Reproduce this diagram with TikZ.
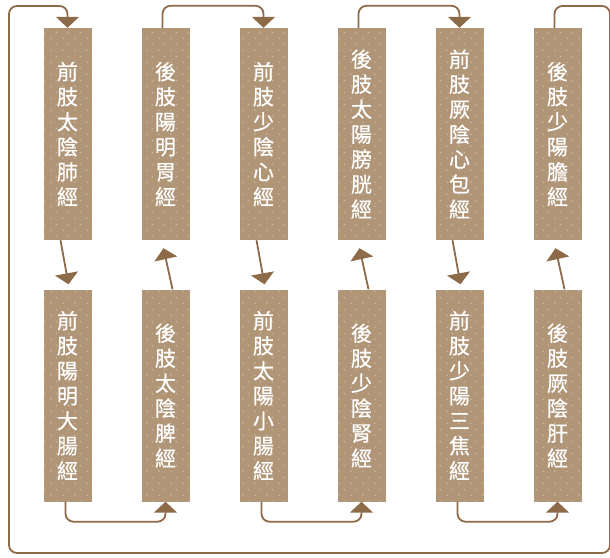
\documentclass[tikz,border=0pt]{standalone}
\usepackage{fontspec}
\newfontfamily\cjk{Noto Sans CJK TC}[FakeBold=0.5]
\usetikzlibrary{arrows.meta,patterns.meta}
\definecolor{boxbrown}{HTML}{B09577}
\definecolor{dotbrown}{HTML}{C6B09A}
\definecolor{linebrown}{HTML}{8D6A48}

\tikzdeclarepattern{
  name=sparsedots,
  type=uncolored,
  bounding box={(0,0) and (12pt,12pt)},
  tile size={(12pt,12pt)},
  code={
    \fill (3pt,3pt) circle (1.1pt);
    \fill (9pt,9pt) circle (1.1pt);
  }
}

\begin{document}
\begin{tikzpicture}[x=1pt, y=-1pt,
    meridian/.style={fill=boxbrown, postaction={pattern=sparsedots, pattern color=dotbrown},
      text=white, minimum width=48pt, minimum height=212pt, inner sep=0pt,
      align=center, font=\cjk\fontsize{21}{25}\selectfont},
    flow/.style={draw=linebrown, line width=1.8pt, rounded corners=8pt},
    flowarrow/.style={-{Triangle[width=23pt,length=11pt]}}]
    \useasboundingbox (0,0) rectangle (610,557);

    % top row
    \node[meridian] (b1) at (67.5,134) {前\\肢\\太\\陰\\肺\\經};
    \node[meridian] (b2) at (165.5,134) {後\\肢\\陽\\明\\胃\\經};
    \node[meridian] (b3) at (263.5,134) {前\\肢\\少\\陰\\心\\經};
    \node[meridian] (b4) at (361.5,134) {後\\肢\\太\\陽\\膀\\胱\\經};
    \node[meridian] (b5) at (459.5,134) {前\\肢\\厥\\陰\\心\\包\\經};
    \node[meridian] (b6) at (557.5,134) {後\\肢\\少\\陽\\膽\\經};
    % bottom row
    \node[meridian] (b7) at (67.5,395.5) {前\\肢\\陽\\明\\大\\腸\\經};
    \node[meridian] (b8) at (165.5,395.5) {後\\肢\\太\\陰\\脾\\經};
    \node[meridian] (b9) at (263.5,395.5) {前\\肢\\太\\陽\\小\\腸\\經};
    \node[meridian] (b10) at (361.5,395.5) {後\\肢\\少\\陰\\腎\\經};
    \node[meridian] (b11) at (459.5,395.5) {前\\肢\\少\\陽\\三\\焦\\經};
    \node[meridian] (b12) at (557.5,395.5) {後\\肢\\厥\\陰\\肝\\經};

    % down and up between the rows
    \draw[flow, flowarrow] ([xshift=-7pt]b1.south) -- ([shift={(1,-5)}]b7.north);
    \draw[flow, flowarrow] ([xshift=7pt]b8.north) -- ([shift={(-2,8)}]b2.south);
    \draw[flow, flowarrow] ([xshift=-7pt]b3.south) -- ([shift={(1,-5)}]b9.north);
    \draw[flow, flowarrow] ([xshift=7pt]b10.north) -- ([shift={(-2,8)}]b4.south);
    \draw[flow, flowarrow] ([xshift=-7pt]b5.south) -- ([shift={(1,-5)}]b11.north);
    \draw[flow, flowarrow] ([xshift=7pt]b12.north) -- ([shift={(-2,8)}]b6.south);

    % over the top
    \draw[flow, flowarrow] ([xshift=-3pt]b2.north) -- ++(0,-22) -| (b3.north);
    \draw[flow, flowarrow] ([xshift=-3pt]b4.north) -- ++(0,-22) -| (b5.north);
    % under the bottom
    \draw[flow, flowarrow] ([xshift=-2pt]b7.south) -- ++(0,20) -| (b8.south);
    \draw[flow, flowarrow] ([xshift=-2pt]b9.south) -- ++(0,20) -| (b10.south);
    \draw[flow, flowarrow] ([xshift=-2pt]b11.south) -- ++(0,20) -| (b12.south);

    % back round to the start
    \coordinate (ne) at (610,6);
    \coordinate (se) at (610,553);
    \coordinate (sw) at (9,553);
    \coordinate (nw) at (9,6);
    \draw[flow, flowarrow] ([xshift=-3pt]b6.north) |- (ne) -- (se) -- (sw) -- (nw) -| (b1.north);
\end{tikzpicture}
\end{document}
